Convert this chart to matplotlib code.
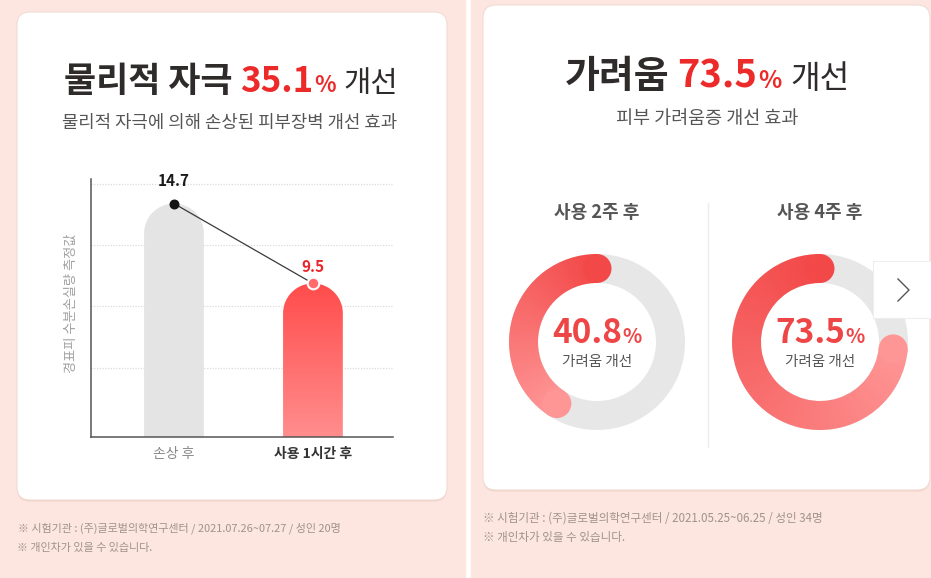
import numpy as np
import matplotlib
matplotlib.use("Agg")
import matplotlib.pyplot as plt
from matplotlib.patches import FancyBboxPatch, Wedge, Circle, PathPatch, Rectangle
from matplotlib.path import Path
from matplotlib.colors import LinearSegmentedColormap

plt.rcParams['font.family'] = ['Noto Sans CJK KR', 'DejaVu Sans']

# ---------------- data ----------------
bar_categories = ['손상 후', '사용 1시간 후']
bar_values = [14.7, 9.5]
bar_value_labels = ['14.7', '9.5']
bar_ylabel = '경표피 수분손실량 측정값'
grid_values = [4, 8, 12, 16]

left_title_main = '물리적 자극'
left_title_num = '35.1'
left_subtitle = '물리적 자극에 의해 손상된 피부장벽 개선 효과'
left_notes = ['※ 시험기관 : (주)글로벌의학연구센터 / 2021.07.26~07.27 / 성인 20명',
              '※ 개인차가 있을 수 있습니다.']

right_title_main = '가려움'
right_title_num = '73.5'
right_subtitle = '피부 가려움증 개선 효과'
donut_titles = ['사용 2주 후', '사용 4주 후']
donut_values = [40.8, 73.5]
donut_value_labels = ['40.8', '73.5']
donut_caption = '가려움 개선'
right_notes = ['※ 시험기관 : (주)글로벌의학연구센터 / 2021.05.25~06.25 / 성인 34명',
               '※ 개인차가 있을 수 있습니다.']
title_suffix = '개선'

# ---------------- style ----------------
W, H = 931, 578
PINK = '#fde6e0'
DARK = '#2f2b2b'
RED = '#ec2a2a'
GRAY = '#555555'
FOOT = '#a0928c'

fig = plt.figure(figsize=(W / 100, H / 100), dpi=100)
renderer = fig.canvas.get_renderer()

def px_axes(x0, y0, x1, y1, **kw):
    return fig.add_axes([x0 / W, 1 - y1 / H, (x1 - x0) / W, (y1 - y0) / H], **kw)

ax_bg = fig.add_axes([0, 0, 1, 1], zorder=-5)
ax_bg.set_xlim(0, W); ax_bg.set_ylim(H, 0); ax_bg.axis('off')
ax_top = fig.add_axes([0, 0, 1, 1], zorder=10)
ax_top.set_xlim(0, W); ax_top.set_ylim(H, 0); ax_top.axis('off')
ax_top.patch.set_alpha(0)

# backgrounds
ax_bg.add_patch(Rectangle((0, 0), W, H, color='white'))
ax_bg.add_patch(Rectangle((0, 0), 465, H, color=PINK))
ax_bg.add_patch(Rectangle((471, 0), W - 471, H, color=PINK))

def card(x0, y0, x1, y1):
    ax_bg.add_patch(FancyBboxPatch((x0, y0 + 1.5), x1 - x0, y1 - y0, boxstyle='round,pad=0,rounding_size=13',
                                   fc='#f1d2c8', ec='none'))
    ax_bg.add_patch(FancyBboxPatch((x0, y0), x1 - x0, y1 - y0, boxstyle='round,pad=0,rounding_size=13',
                                   fc='white', ec='#f0dcd5', lw=0.8))

card(17, 12, 447, 500)
card(483, 5, 930, 490)


def rich(ax, pieces, x, y, size, target_w=None, va='baseline'):
    """pieces: (text, color, weight, rel_size, gap_em_before)"""
    def make(sz):
        objs, ws = [], []
        for t, c, w, r, g in pieces:
            o = ax.text(0, y, t, color=c, fontweight=w, fontsize=sz * r, ha='left', va=va)
            objs.append(o)
            ws.append(o.get_window_extent(renderer).width + g * sz * 100 / 72)
        return objs, ws
    objs, ws = make(size)
    if target_w:
        for o in objs:
            o.remove()
        size = size * target_w / sum(ws)
        objs, ws = make(size)
    cur = x - sum(ws) / 2
    for o, w, p in zip(objs, ws, pieces):
        cur += p[4] * size * 100 / 72
        o.set_x(cur)
        cur += w - p[4] * size * 100 / 72
    return size

# ---------------- left titles ----------------
rich(ax_top, [(left_title_main, DARK, 'heavy', 1, 0), (left_title_num, RED, 'heavy', 1, 0.22),
              ('%', RED, 'heavy', 0.64, 0.03), (title_suffix, DARK, 'medium', 0.85, 0.22)],
     231, 92, 25, target_w=335)
rich(ax_top, [(left_subtitle, GRAY, 'normal', 1, 0)], 230, 123, 14, target_w=334, va='center')

sz = rich(ax_top, [(left_notes[0], FOOT, 'normal', 1, 0)], 17 + 325 / 2, 528, 9, target_w=325, va='center')
ax_top.text(17, 548, left_notes[1], color=FOOT, fontsize=sz, va='center', ha='left')

# ---------------- bar chart ----------------
AX0, AY0, AX1, AY1 = 91, 179, 393, 437
ax = px_axes(AX0, AY0, AX1, AY1)
ax.patch.set_alpha(0)
xlim = (-0.597, 1.576)
ylim = (-0.5, 16.3)
ax.set_xlim(*xlim); ax.set_ylim(*ylim)
bw = 0.43
px_x = (AX1 - AX0) / (xlim[1] - xlim[0])
px_y = (AY1 - AY0) / (ylim[1] - ylim[0])
hr = (bw / 2) * px_x / px_y

def rounded_bar(i, v):
    x0, x1 = i - bw / 2, i + bw / 2
    t = np.linspace(np.pi, 0, 60)
    verts = [(x0, ylim[0]), (x0, v - hr)]
    verts += list(zip(i + bw / 2 * np.cos(t), v - hr + hr * np.sin(t)))
    verts += [(x1, ylim[0]), (x0, ylim[0])]
    codes = [Path.MOVETO] + [Path.LINETO] * (len(verts) - 2) + [Path.CLOSEPOLY]
    return Path(verts, codes)

p0 = PathPatch(rounded_bar(0, bar_values[0]), fc='#e4e4e4', ec='none', zorder=2)
ax.add_patch(p0)
p1 = PathPatch(rounded_bar(1, bar_values[1]), fc='none', ec='none', zorder=2)
ax.add_patch(p1)
cmap_bar = LinearSegmentedColormap.from_list('b', ['#ff8d8d', '#ff4c4c'])
grad = np.linspace(0, 1, 256).reshape(-1, 1)
im = ax.imshow(grad, cmap=cmap_bar, origin='lower', aspect='auto',
               extent=[1 - bw / 2, 1 + bw / 2, ylim[0], bar_values[1]], zorder=2)
im.set_clip_path(p1)
ax.set_xlim(*xlim); ax.set_ylim(*ylim)

x_pos = np.arange(len(bar_values))
ax.plot(x_pos, bar_values, color='#3a3a3a', lw=0.9, zorder=4)
ax.scatter([x_pos[0]], [bar_values[0]], s=38, color='#141414', zorder=5)
ax.scatter([x_pos[1]], [bar_values[1]], s=70, color='#ff6b6b', edgecolors='white', linewidths=1.5, zorder=5)

label_colors = ['#1a1a1a', '#e8262b']
label_offsets = [16.5, 11.5]
for i, (v, lab) in enumerate(zip(bar_values, bar_value_labels)):
    ax.annotate(lab, (i, v), xytext=(0, label_offsets[i]), textcoords='offset points',
                ha='center', va='center', fontsize=11, fontweight='bold', color=label_colors[i], zorder=6)

ax.set_yticks(grid_values)
ax.set_yticklabels([])
ax.yaxis.grid(True, linestyle=(0, (1, 1.2)), color='#dcdcdc', lw=0.9)
ax.set_axisbelow(True)
ax.tick_params(axis='y', length=0)
ax.set_xticks(x_pos)
ax.set_xticklabels(bar_categories)
ax.tick_params(axis='x', length=0, pad=7, labelsize=10)
tl = ax.get_xticklabels()
tl[0].set_color('#8a8a8a')
tl[1].set_color('#333333'); tl[1].set_fontweight('bold')
for s in ['top', 'right']:
    ax.spines[s].set_visible(False)
for s in ['left', 'bottom']:
    ax.spines[s].set_color('#555555'); ax.spines[s].set_linewidth(1.1)
ax_top.text(71, 303, bar_ylabel, rotation=90, ha='center', va='center', fontsize=9.5, color='#a0a0a0')

# ---------------- right titles ----------------
rich(ax_top, [(right_title_main, DARK, 'heavy', 1, 0), (right_title_num, RED, 'heavy', 1, 0.22),
              ('%', RED, 'heavy', 0.64, 0.03), (title_suffix, DARK, 'medium', 0.85, 0.22)],
     707, 88, 25, target_w=285)
rich(ax_top, [(right_subtitle, GRAY, 'normal', 1, 0)], 707, 119, 14, target_w=183, va='center')

sz = rich(ax_top, [(right_notes[0], FOOT, 'normal', 1, 0)], 483 + 340 / 2, 518, 9, target_w=340, va='center')
ax_top.text(483, 538, right_notes[1], color=FOOT, fontsize=sz, va='center', ha='left')

# divider
ax_bg.plot([708, 708], [203, 447], color='#ececec', lw=1)

# ---------------- donuts ----------------
cmap_d = LinearSegmentedColormap.from_list('d', ['#f34848', '#ff9696'])
centers = [(597, 342), (820, 342)]
R_px, W_px, HALF = 88, 29, 95
gx, gy = np.meshgrid(np.linspace(-1, 1, 600), np.linspace(-1, 1, 600))
ang = (np.degrees(np.arctan2(gy, gx)) - 90) % 360
for (cx, cy), val, ttl, vlab in zip(centers, donut_values, donut_titles, donut_value_labels):
    dax = px_axes(cx - HALF, cy - HALF, cx + HALF, cy + HALF)
    dax.set_xlim(-1, 1); dax.set_ylim(-1, 1); dax.set_aspect('equal'); dax.axis('off')
    R, wd = R_px / HALF, W_px / HALF
    dax.add_patch(Wedge((0, 0), R, 0, 360, width=wd, color='#e7e7e7', lw=0))
    span = 360 * val / 100
    rm = R - wd / 2
    a_end = np.deg2rad(90 + span)
    arc = Wedge((0, 0), R, 90, 90 + span, width=wd, fc='none', ec='none')
    dax.add_patch(arc)
    frac = np.clip(ang / span, 0, 1)
    img = dax.imshow(frac, cmap=cmap_d, origin='lower', extent=[-1, 1, -1, 1], zorder=3,
                     interpolation='bilinear')
    img.set_clip_path(arc)
    dax.add_patch(Circle((0, rm), wd / 2, color=cmap_d(0.0), lw=0, zorder=4))
    dax.add_patch(Circle((rm * np.cos(a_end), rm * np.sin(a_end)), wd / 2, color=cmap_d(1.0), lw=0, zorder=4))
    dax.set_xlim(-1, 1); dax.set_ylim(-1, 1)
    ax_top.text(cx, 212, ttl, ha='center', va='center', fontsize=13, fontweight='bold', color=GRAY)
    rich(ax_top, [(vlab, '#ee4646', 'bold', 1, 0), ('%', '#ee4646', 'bold', 0.6, 0.02)],
         cx, 343, 26, target_w=90)
    ax_top.text(cx, 362, donut_caption, ha='center', va='center', fontsize=10.5, color=GRAY)

# next button
ax_top.add_patch(Rectangle((873, 261), 60, 57, fc='white', ec='#eeeeee', lw=0.8))
ax_top.plot([898, 909, 898], [279, 290, 301], color='#555555', lw=1)

fig.savefig('out.png', dpi=100)
